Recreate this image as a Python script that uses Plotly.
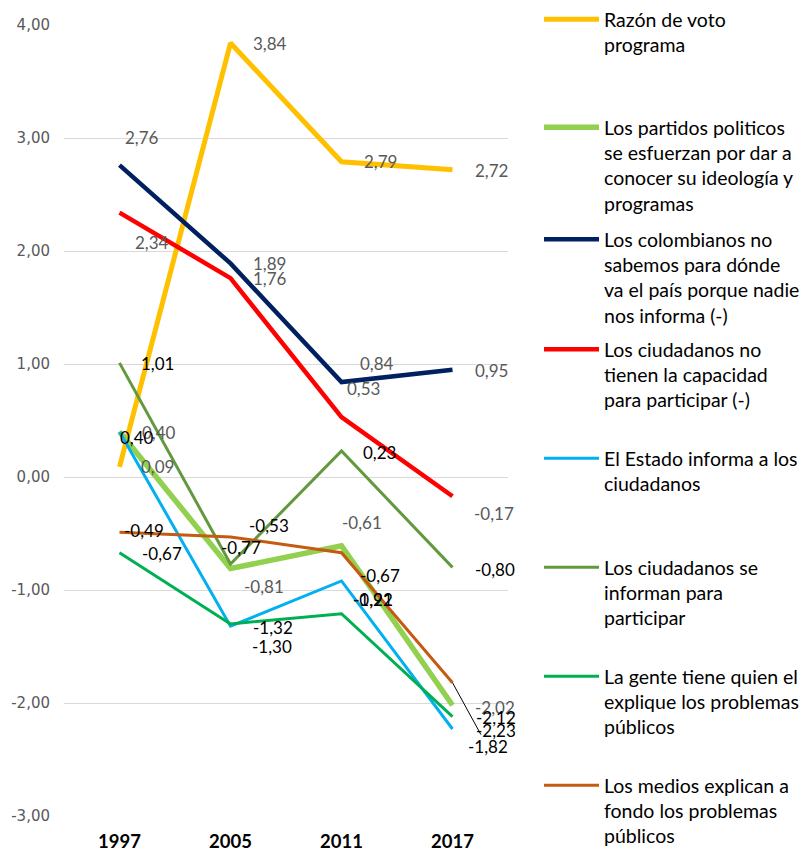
import plotly.graph_objects as go

# Survey years on the category axis
years = ["1997", "2005", "2011", "2017"]

# Index values per indicator and year
razon_voto = [0.09, 3.84, 2.79, 2.72]
partidos = [0.40, -0.81, -0.61, -2.02]
colombianos = [2.76, 1.89, 0.84, 0.95]
capacidad = [2.34, 1.76, 0.53, -0.17]
estado = [0.40, -1.32, -0.92, -2.23]
se_informan = [1.01, -0.77, 0.23, -0.80]
gente = [-0.67, -1.30, -1.21, -2.12]
medios = [-0.49, -0.53, -0.67, -1.82]

y_ticks = [4, 3, 2, 1, 0, -1, -2, -3]

series = [
    ("Razón de voto<br>programa", razon_voto, "#FFC000", 5.0, "#595959"),
    ("Los partidos politicos<br>se esfuerzan por dar a<br>conocer su ideología y<br>programas",
     partidos, "#92D050", 5.5, "#595959"),
    ("Los colombianos no<br>sabemos para dónde<br>va el país porque nadie<br>nos informa (-)",
     colombianos, "#002060", 4.5, "#595959"),
    ("Los ciudadanos no<br>tienen la capacidad<br>para participar (-)", capacidad, "#FF0000", 4.5, "#595959"),
    ("El Estado informa a los<br>ciudadanos", estado, "#00B0F0", 3.0, "#000000"),
    ("Los ciudadanos se<br>informan para<br>participar", se_informan, "#62993E", 3.0, "#000000"),
    ("La gente tiene quien el<br>explique los problemas<br>públicos", gente, "#00B050", 3.0, "#000000"),
    ("Los medios explican a<br>fondo los problemas<br>públicos", medios, "#C55A11", 3.0, "#000000"),
]

# Pixel offsets (right, down) of each value label from its point
label_offsets = [
    [(38, 0), (39, 0), (39, 0), (39, 1)],
    [(39, 1), (33, 18), (20, -23), (42, 2)],
    [(22, -28), (39, 0), (35, -19), (39, 1)],
    [(32, 30), (39, 0), (22, -29), (41, 17)],
    [(17, 6), (42, 1), (31, 19), (43, 2)],
    [(38, 1), (10, -17), (38, 1), (42, 2)],
    [(42, 1), (41, 23), (31, -14), (43, 1)],
    [(24, -2), (38, -11), (38, 23), (35, 64)],
]

W, H = 807, 853
M_L, M_R, M_T, M_B = 64, 299, 25, 37

# First-line centre (px from top) of each legend entry
legend_rows = [17, 128, 240, 350, 459, 568, 677, 786]
LEGEND_LEFT = 539


def fmt(v):
    return f"{v:.2f}".replace(".", ",")


fig = go.Figure()
annotations = []
layout_legends = {}

for i, (name, vals, color, width, lab_color) in enumerate(series):
    key = "legend" if i == 0 else f"legend{i + 1}"
    fig.add_trace(go.Scatter(
        x=years, y=vals, mode="lines", name=name,
        line=dict(color=color, width=width),
        legend=key, hoverinfo="skip",
    ))
    top_px = max(0, legend_rows[i] - 20)
    layout_legends[key] = dict(
        xref="container", yref="container",
        x=LEGEND_LEFT / W,
        y=1 - top_px / H,
        xanchor="left", yanchor="top",
        bgcolor="rgba(0,0,0,0)",
        font=dict(family="Lato", size=19.5, color="#000000"),
        valign="top", itemwidth=55,
    )
    for j, v in enumerate(vals):
        dx, dy = label_offsets[i][j]
        # category axis: annotation x is the category's position index
        ann = dict(
            x=j, y=v, xref="x", yref="y", text=fmt(v),
            font=dict(family="Lato", size=17, color=lab_color),
        )
        if i == 7 and j == 3:
            # label pulled away from the crowded end points, with a leader line
            ann.update(showarrow=True, arrowhead=0, arrowwidth=1, arrowcolor="#000000",
                       ax=dx, ay=dy, standoff=0)
        else:
            ann.update(showarrow=False, xshift=dx, yshift=-dy)
        annotations.append(ann)

fig.update_layout(
    width=W, height=H,
    margin=dict(l=M_L, r=M_R, t=M_T, b=M_B, pad=0, autoexpand=False),
    paper_bgcolor="#FFFFFF", plot_bgcolor="#FFFFFF",
    showlegend=True,
    annotations=annotations,
    **layout_legends,
)

fig.update_xaxes(
    type="category", categoryorder="array", categoryarray=years,
    range=[-0.5, 3.5], showgrid=False, showline=False, zeroline=False,
    ticks="", ticklabelstandoff=12, automargin=False,
    tickfont=dict(family="Lato", size=18.5, color="#000000", weight="bold"),
)
fig.update_yaxes(
    range=[-3, 4], tickvals=y_ticks, ticktext=[fmt(t) for t in y_ticks],
    showgrid=True, gridcolor="#D9D9D9", gridwidth=1,
    zeroline=False, showline=False, ticks="", ticklabelstandoff=13, automargin=False,
    tickfont=dict(family="DejaVu Sans", size=15, color="#595959"),
)

fig.write_html("out.html", config={"displayModeBar": False})
